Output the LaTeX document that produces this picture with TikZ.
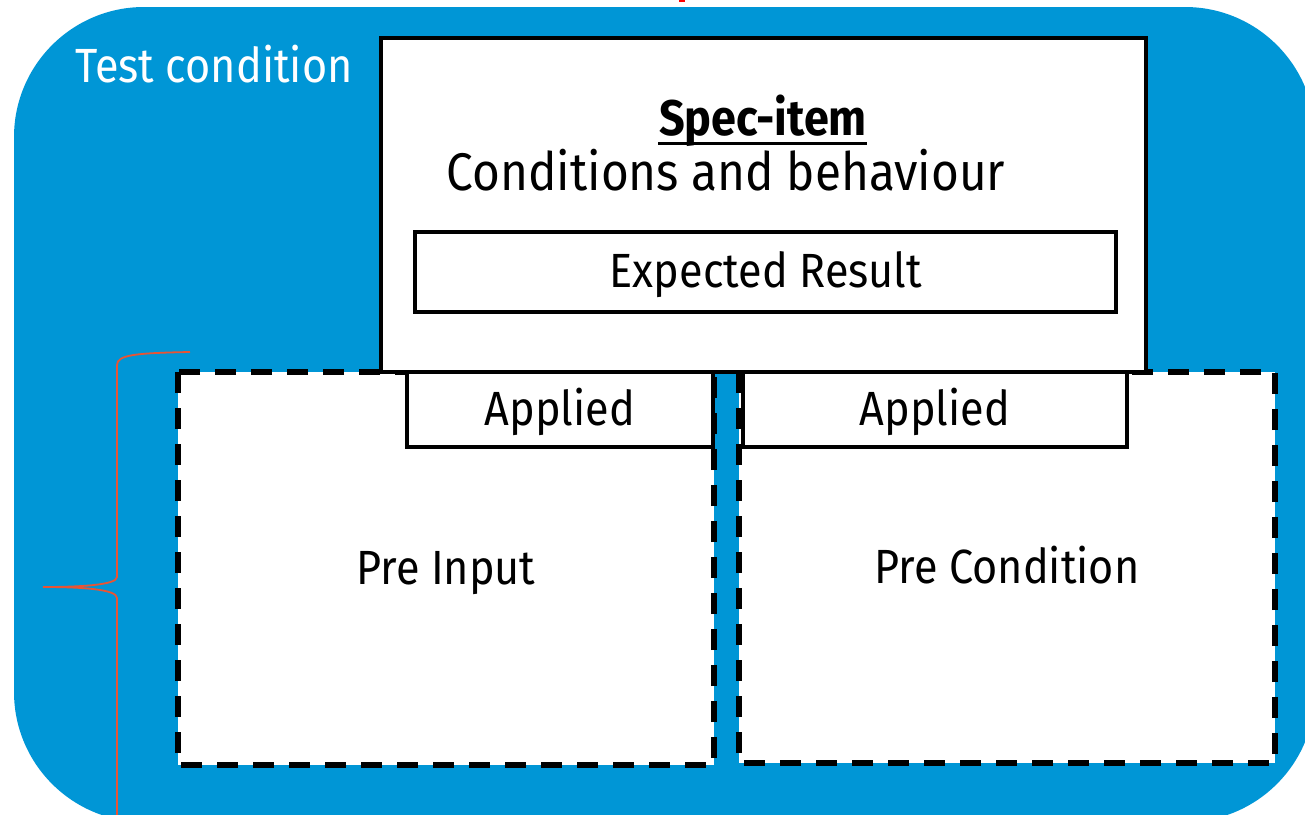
\documentclass[tikz,border=0pt]{standalone}
\usepackage{fontspec}
\setmainfont{Fira Sans}[FakeStretch=0.9]
\definecolor{hpblue}{RGB}{0,150,214}
\definecolor{bracered}{RGB}{232,84,52}
\begin{document}
\begin{tikzpicture}[x=1pt,y=-1pt,
  solidbox/.style={draw=black,line width=4pt,fill=white},
  dashbox/.style={draw=black,line width=5.5pt,fill=white,dash pattern=on 21pt off 15pt},
  bigtext/.style={font=\fontsize{48}{56}\selectfont,inner sep=0pt,anchor=base},
  bracepath/.style={draw=bracered,line width=1.8pt}]
\useasboundingbox (0,0) rectangle (1305,814);
\clip (0,0) rectangle (1305,814);
% blue background
\fill[hpblue,rounded corners=130pt] (14,7) rectangle (1315,822);
\fill[red] (679,0) rectangle (685,2);
% dashed boxes
\draw[dashbox] (178,372) rectangle (714,765);
\draw[dashbox] (739,372) rectangle (1275,763);
% spec box
\draw[solidbox] (381,38) rectangle (1146,372);
\draw[solidbox] (415,232) rectangle (1116,312);
\draw[solidbox] (407,372) rectangle (713,447);
\draw[solidbox] (743,372) rectangle (1127,447);
% texts
\node[bigtext,text=white,anchor=base west] (tc) at (75,82) {Test condition};
\node[bigtext,font=\fontsize{50}{56}\selectfont] (spec) at (763,135) {\textbf{Spec-item}};
\draw[line width=3pt] (658,143) -- (867,143);
\node[bigtext,font=\fontsize{53}{60}\selectfont] (cond) at (726,190) {Conditions and behaviour};
\node[bigtext] (exp) at (766,287) {Expected Result};
\node[bigtext] (ap1) at (560,425) {Applied};
\node[bigtext] (ap2) at (935,425) {Applied};
\node[bigtext] (pi) at (446,584) {Pre Input};
\node[bigtext] (pc) at (1007,583) {Pre Condition};
% brace
\draw[bracepath] (190,352) .. controls (135,353) and (117,355) .. (117,365)
  -- (117,577) .. controls (117,585) and (80,587) .. (43,587)
  .. controls (80,587) and (117,589) .. (117,598) -- (117,830);
\end{tikzpicture}
\end{document}
